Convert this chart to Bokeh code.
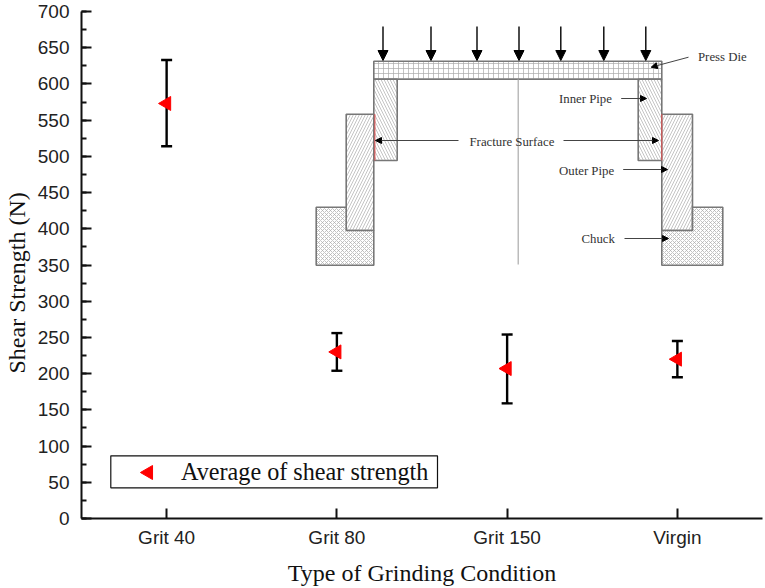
from bokeh.embed import file_html
from bokeh.resources import INLINE
from bokeh.plotting import figure
from bokeh.models import (Range1d, FixedTicker, Legend, LegendItem, Arrow, NormalHead,
                          ColumnDataSource, Whisker, TeeHead, Label, Title)
from bokeh.core.properties import value

# ---- data ----
categories = ["Grit 40", "Grit 80", "Grit 150", "Virgin"]
positions = [1, 2, 3, 4]
mean_strength = [573, 230, 207, 220]
err_low = [514, 204, 159, 195]
err_high = [633, 256, 254, 245]
y_ticks = list(range(0, 701, 100 // 2))
y_minor = list(range(0, 701, 25))

# ---- inset schematic, in picture pixels ----
hatch_rects = [  # left, right, top, bottom, pattern, scale
    (373.3, 661.3, 60.7, 78.7, "cross", 5),
    (373.3, 396.7, 78.7, 160, "left_diagonal_line", 6),
    (637.7, 661.3, 78.7, 160, "left_diagonal_line", 6),
    (345.7, 373.3, 113.7, 230, "right_diagonal_line", 6),
    (661.3, 692, 113.7, 230, "right_diagonal_line", 6),
]
chuck_left_x = [315.7, 345.7, 345.7, 373.3, 373.3, 315.7]
chuck_left_y = [206.7, 206.7, 230, 230, 264.7, 264.7]
chuck_right_x = [661.3, 692, 692, 722.3, 722.3, 661.3]
chuck_right_y = [230, 230, 206.7, 206.7, 264.7, 264.7]
load_x = [382.5, 430.5, 476.5, 518.5, 560.3, 603.3, 645.3]
callouts = [  # x0, y0, x1, y1
    (688, 56.7, 650.7, 66.7),
    (620.7, 98, 646, 98),
    (458, 140, 375, 140),
    (563, 140, 658, 140),
    (622.7, 169, 667, 169),
    (624, 238, 668, 238),
]
callout_text = [("Press Die", 697.5, 56), ("Inner Pipe", 558.5, 98),
                ("Fracture Surface", 469, 141.5), ("Outer Pipe", 558.5, 170), ("Chuck", 581, 238)]

p = figure(width=765, height=588, output_backend="svg", toolbar_location=None,
           x_range=Range1d(0.5, 4.5), y_range=Range1d(0, 700),
           min_border_left=81, min_border_right=3, min_border_top=11, min_border_bottom=70,
           outline_line_color=None, background_fill_color="white", border_fill_color="white")
p.grid.visible = False
p.extra_x_ranges["px"] = Range1d(81, 762)
p.extra_y_ranges["py"] = Range1d(518, 11)

# axes
xa, ya = p.xaxis[0], p.yaxis[0]
xa.ticker = FixedTicker(ticks=positions)
xa.major_label_overrides = dict(zip(positions, categories))
ya.ticker = FixedTicker(ticks=y_ticks, minor_ticks=y_minor)
xa.minor_tick_line_color = None
for a in (xa, ya):
    a.axis_line_width = 2
    a.axis_line_color = "#111111"
    a.major_tick_line_width = 2
    a.major_tick_line_color = "#111111"
    a.major_tick_in = 10
    a.major_tick_out = 0
    a.major_label_text_font = "Liberation Sans"
    a.major_label_text_font_size = "19px"
    a.major_label_text_color = "#222222"
    a.axis_label_text_font = "Liberation Serif"
    a.axis_label_text_font_style = "normal"
    a.axis_label_text_font_size = "24px"
    a.axis_label_text_color = "#111111"
ya.minor_tick_in = 5
ya.minor_tick_out = 0
ya.minor_tick_line_width = 2
ya.minor_tick_line_color = "#111111"
ya.major_label_standoff = 12
xa.major_label_standoff = 8
xa.axis_label = "Type of Grinding Condition"
xa.axis_label_standoff = 9
p.add_layout(Title(text="Shear Strength (N)", align="left", offset=145, standoff=6,
                   vertical_align="top",
                   text_font="Liberation Serif", text_font_size="24px",
                   text_font_style="normal", text_color="#111111"), "left")

# schematic
G = "#777777"
for l, r, t, b, pat, sc in hatch_rects:
    p.quad(left=[l], right=[r], top=[t], bottom=[b], x_range_name="px", y_range_name="py",
           fill_color="white", line_color=G, line_width=1.6, hatch_pattern=pat,
           hatch_scale=sc, hatch_color="#aaaaaa", hatch_weight=0.7)
for cx, cy in ((chuck_left_x, chuck_left_y), (chuck_right_x, chuck_right_y)):
    p.patch(cx, cy, x_range_name="px", y_range_name="py", fill_color="white", line_color=G,
            line_width=1.6, hatch_pattern="diagonal_cross", hatch_scale=4,
            hatch_color="#aaaaaa", hatch_weight=0.7)
p.segment([517.7], [78.7], [517.7], [264], x_range_name="px", y_range_name="py",
          line_color="#aaaaaa", line_width=1.2)
p.segment([374.4, 661.3], [113.7, 113.7], [374.4, 661.3], [160, 160], x_range_name="px",
          y_range_name="py", line_color="#e85050", line_width=1)
for x in load_x:
    p.add_layout(Arrow(end=NormalHead(size=10, fill_color="black", line_color="black"),
                       x_start=x, y_start=26, x_end=x, y_end=60, line_width=1.4,
                       x_range_name="px", y_range_name="py"))
for x0, y0, x1, y1 in callouts:
    p.add_layout(Arrow(end=NormalHead(size=6, fill_color="black", line_color="black"),
                       x_start=x0, y_start=y0, x_end=x1, y_end=y1, line_width=1,
                       line_color="#444444", x_range_name="px", y_range_name="py"))
for txt, x, y in callout_text:
    p.add_layout(Label(x=x, y=y, text=txt, x_range_name="px", y_range_name="py",
                       text_font="Liberation Serif", text_font_size="12.8px",
                       text_color="#333333", text_baseline="middle", text_align="left"))

# data
src = ColumnDataSource(dict(x=positions, low=err_low, high=err_high, mean=mean_strength))
p.add_layout(Whisker(source=src, base="x", lower="low", upper="high", line_color="black",
                     line_width=2.4,
                     lower_head=TeeHead(size=11, line_color="black", line_width=2.4),
                     upper_head=TeeHead(size=11, line_color="black", line_width=2.4)))
p.scatter("x", "mean", source=src, marker="triangle", size=14, angle=1.5708,
          fill_color="#ff0000", line_color="#ff0000")

# legend: box and left-pointing key are drawn below/above a native Legend's text
p.quad(left=[110.3], right=[437], top=[455.3], bottom=[487.3], x_range_name="px", y_range_name="py",
       fill_color="white", line_color="#111111", line_width=1.2)
key = p.line([0.6], [10], line_alpha=0)
p.scatter([148], [472], x_range_name="px", y_range_name="py", marker="triangle", size=14,
          angle=1.5708, fill_color="#ff0000", line_color="#ff0000", level="overlay")
legend = Legend(items=[LegendItem(label=value("Average of shear strength"), renderers=[key])],
                location=(29, 32.5), orientation="vertical", padding=4, margin=0,
                glyph_width=66, glyph_height=22, label_standoff=5, label_height=24,
                label_text_font="Liberation Serif", label_text_font_size="24.2px",
                label_text_color="#111111", border_line_color=None, background_fill_alpha=0)
p.add_layout(legend, "center")

open("out.html", "w").write(file_html(p, INLINE))
